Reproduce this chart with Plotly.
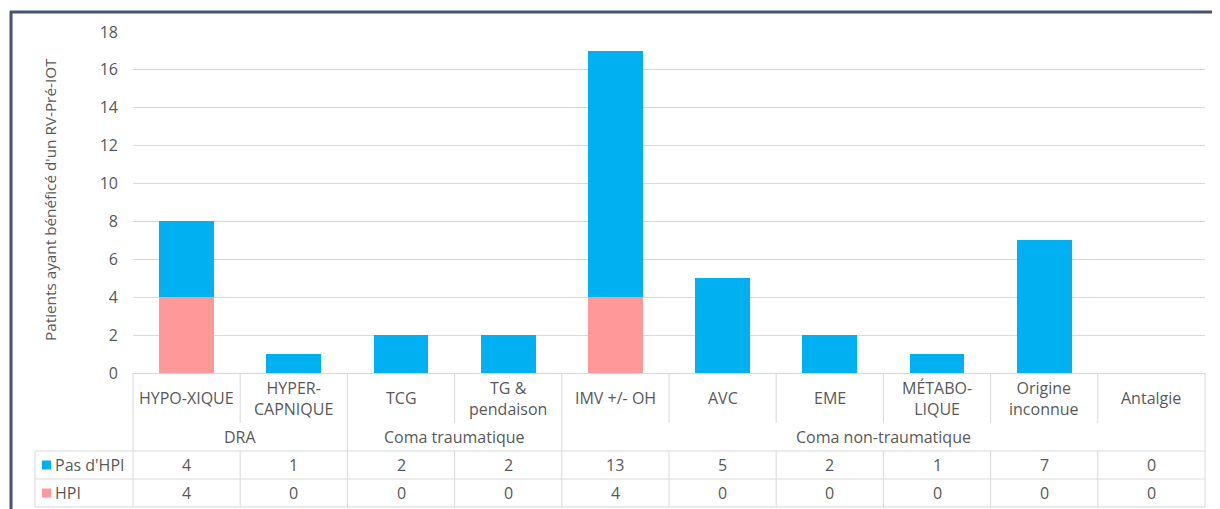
import plotly.graph_objects as go

# ---- data ----
categories = ["HYPO-XIQUE", "HYPER-<br>CAPNIQUE", "TCG", "TG &<br>pendaison", "IMV +/- OH",
              "AVC", "EME", "MÉTABO-<br>LIQUE", "Origine<br>inconnue", "Antalgie"]
groups = ["DRA", "Coma traumatique", "Coma non-traumatique"]
group_spans = [(0, 2), (2, 4), (4, 10)]
pas_hpi = [4, 1, 2, 2, 13, 5, 2, 1, 7, 0]
hpi = [4, 0, 0, 0, 4, 0, 0, 0, 0, 0]
series_names = ["Pas d'HPI", "HPI"]
y_ticks = list(range(0, 19, 2))
y_title = "Patients ayant bénéficé d'un RV-Pré-IOT"

# ---- style ----
BLUE = "#00B0F0"
PINK = "#FF9999"
GRID = "#D9D9D9"
TXT = "#595959"
FONT = "Open Sans, sans-serif"
FS = 16

OFF = 8  # page body margin
W, H = 1220 - OFF, 509 - OFF
# reference pixel geometry of plot area
REF_L, REF_R, REF_T, REF_B = 133, 1205, 32, 373
L, T = REF_L - OFF, REF_T - OFF
PW, PH = REF_R - REF_L, REF_B - REF_T
R, B = W - L - PW, H - T - PH
n = len(categories)


def pxx(xpix):
    return (xpix - REF_L) / PW


def pxy(ypix):
    return (REF_B - ypix) / PH


def cat_x(p):
    return (p + 0.5) / n


xs = list(range(n))
fig = go.Figure()
fig.add_trace(go.Bar(x=xs, y=hpi, name=series_names[1], marker=dict(color=PINK, line=dict(width=0)),
                     width=0.51))
fig.add_trace(go.Bar(x=xs, y=pas_hpi, name=series_names[0], marker=dict(color=BLUE, line=dict(width=0)),
                     width=0.51))

shapes = []
annotations = []

grp_bounds = set([s for s, e in group_spans] + [e for s, e in group_spans])
for b in range(n + 1):
    xp = b / n
    segs = [(373, 507)] if b in grp_bounds else [(373, 423), (451, 507)]
    for y0, y1 in segs:
        shapes.append(dict(type="line", xref="paper", yref="paper", x0=xp, x1=xp,
                           y0=pxy(y0), y1=pxy(y1), line=dict(color=GRID, width=1)))
for yy in [451, 479, 507]:
    shapes.append(dict(type="line", xref="paper", yref="paper", x0=pxx(35), x1=1,
                       y0=pxy(yy), y1=pxy(yy), line=dict(color=GRID, width=1)))
shapes.append(dict(type="line", xref="paper", yref="paper", x0=pxx(35), x1=pxx(35),
                   y0=pxy(451), y1=pxy(507), line=dict(color=GRID, width=1)))

for i, c in enumerate(categories):
    annotations.append(dict(x=cat_x(i), y=pxy(398), xref="paper", yref="paper", text=c,
                            showarrow=False, xanchor="center", yanchor="middle",
                            font=dict(size=FS, color=TXT, family=FONT)))
for g, (s, e) in zip(groups, group_spans):
    annotations.append(dict(x=(cat_x(s) + cat_x(e - 1)) / 2, y=pxy(437), xref="paper", yref="paper",
                            text=g, showarrow=False, xanchor="center", yanchor="middle",
                            font=dict(size=FS, color=TXT, family=FONT)))
rows = [(series_names[0], pas_hpi, BLUE, 465), (series_names[1], hpi, PINK, 493)]
for name, vals, col, yc in rows:
    for i, v in enumerate(vals):
        annotations.append(dict(x=cat_x(i), y=pxy(yc), xref="paper", yref="paper", text=str(v),
                                showarrow=False, xanchor="center", yanchor="middle",
                                font=dict(size=FS, color=TXT, family=FONT)))
    shapes.append(dict(type="rect", xref="paper", yref="paper", x0=pxx(42), x1=pxx(51),
                       y0=pxy(yc - 4.5), y1=pxy(yc + 4.5), fillcolor=col, line=dict(width=0)))
    annotations.append(dict(x=pxx(53), y=pxy(yc), xref="paper", yref="paper", text=name,
                            showarrow=False, xanchor="left", yanchor="middle",
                            font=dict(size=FS, color=TXT, family=FONT)))

annotations.append(dict(x=pxx(50), y=pxy(200), xref="paper", yref="paper", text=y_title,
                        textangle=-90, showarrow=False, xanchor="center", yanchor="middle",
                        font=dict(size=15.3, color=TXT, family=FONT)))

# outer frame (left and top edges)
shapes.append(dict(type="line", xref="paper", yref="paper", x0=pxx(11), x1=pxx(11),
                   y0=pxy(11), y1=pxy(520), line=dict(color="#44546A", width=3)))
shapes.append(dict(type="line", xref="paper", yref="paper", x0=pxx(10), x1=pxx(1230),
                   y0=pxy(12), y1=pxy(12), line=dict(color="#44546A", width=3)))

fig.update_layout(
    width=W, height=H, margin=dict(l=L, r=R, t=T, b=B, autoexpand=False),
    barmode="stack", showlegend=False,
    plot_bgcolor="white", paper_bgcolor="white",
    font=dict(family=FONT, color=TXT, size=FS),
    shapes=shapes, annotations=annotations,
)
fig.update_xaxes(range=[-0.5, n - 0.5], showticklabels=False, showgrid=False, zeroline=False,
                 showline=True, linecolor=GRID, linewidth=1, ticks="")
fig.update_yaxes(range=[0, 18], tickvals=y_ticks, showgrid=True, gridcolor=GRID, gridwidth=1,
                 zeroline=False, showline=False, ticks="", ticklabelstandoff=14,
                 tickfont=dict(size=FS, color=TXT, family=FONT))

fig.write_html("out.html")
